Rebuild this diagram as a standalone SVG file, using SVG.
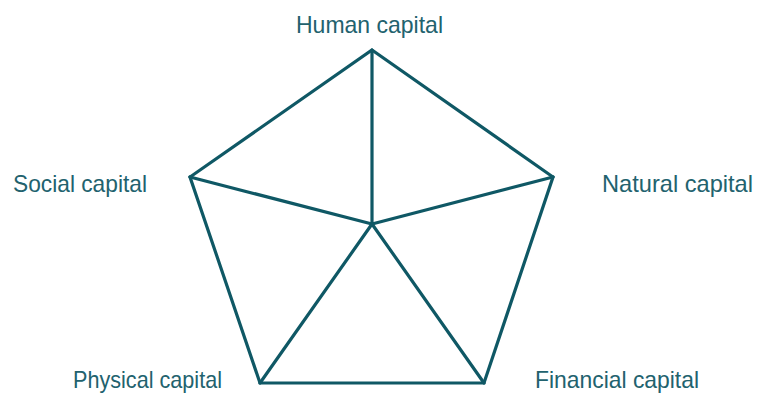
<svg xmlns="http://www.w3.org/2000/svg" width="757" height="397" viewBox="0 0 757 397">
<style>
.e{stroke:#0f5865;stroke-width:3.2;fill:none;stroke-linejoin:miter;stroke-linecap:round}
.t{font-family:"Liberation Sans","DejaVu Sans",sans-serif;font-size:24px;fill:#22626e}
</style>
<rect width="757" height="397" fill="#fff"/>
<g id="connectors">
<polygon class="e" points="372,50 553,177 484,383 260,383 190,177"/>
<line class="e" x1="372" y1="50" x2="372" y2="224"/>
<line class="e" x1="190" y1="177" x2="372" y2="224"/>
<line class="e" x1="553" y1="177" x2="372" y2="224"/>
<line class="e" x1="260" y1="383" x2="372" y2="224"/>
<line class="e" x1="484" y1="383" x2="372" y2="224"/>
</g>
<g id="human"><text class="t" x="296" y="33" textLength="147" lengthAdjust="spacingAndGlyphs">Human capital</text></g>
<g id="social"><text class="t" x="13" y="192" textLength="134" lengthAdjust="spacingAndGlyphs">Social capital</text></g>
<g id="natural"><text class="t" x="602" y="192" textLength="151" lengthAdjust="spacingAndGlyphs">Natural capital</text></g>
<g id="physical"><text class="t" x="73" y="388" textLength="149" lengthAdjust="spacingAndGlyphs">Physical capital</text></g>
<g id="financial"><text class="t" x="535" y="388" textLength="164" lengthAdjust="spacingAndGlyphs">Financial capital</text></g>
</svg>
